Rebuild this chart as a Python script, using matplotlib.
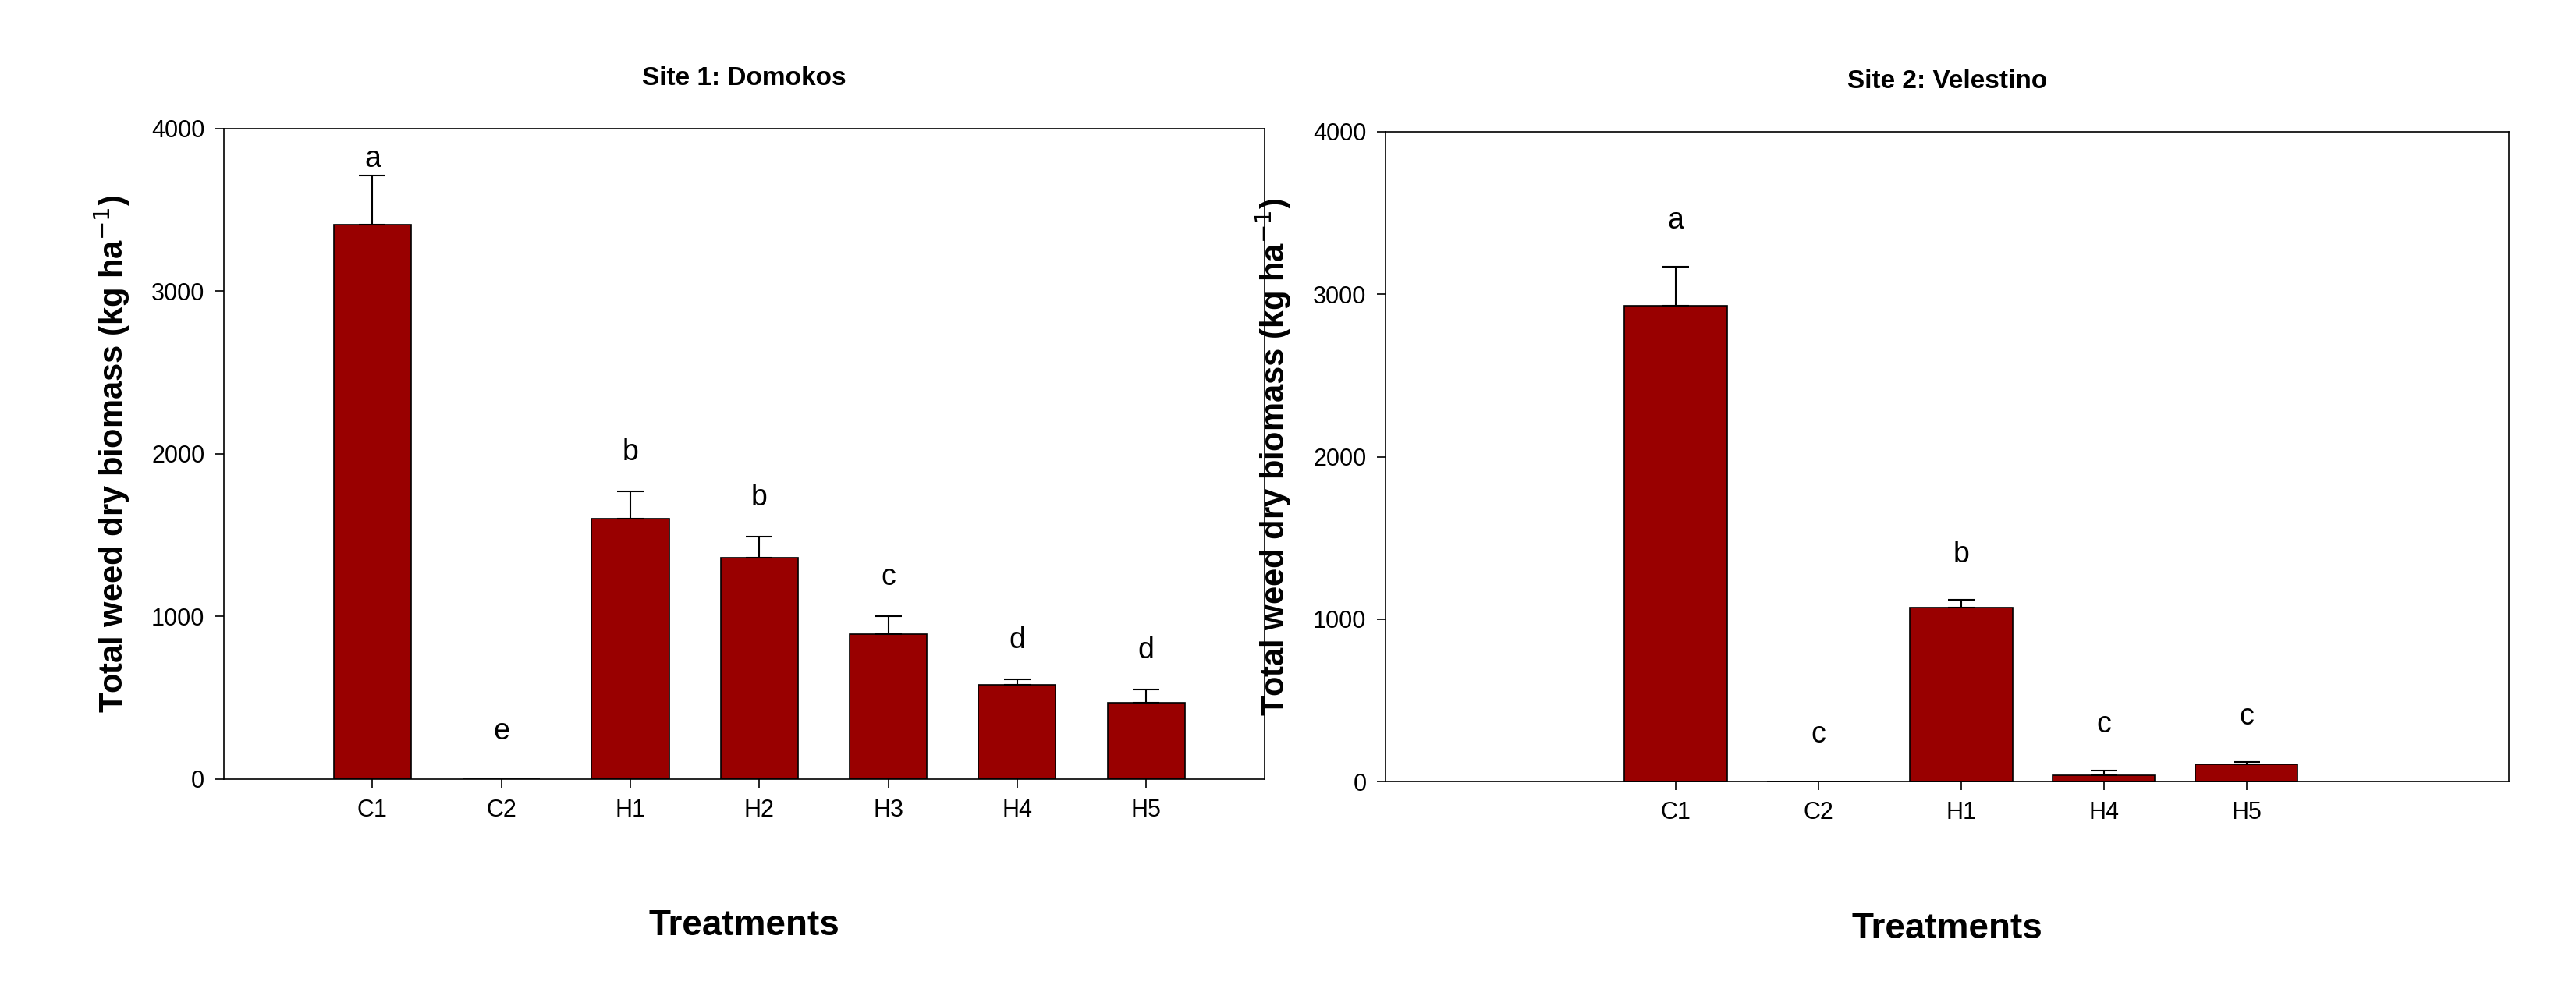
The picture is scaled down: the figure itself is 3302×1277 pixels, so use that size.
import matplotlib.pyplot as plt

plt.rcParams['font.family'] = ['Liberation Sans', 'DejaVu Sans']

# ---------------------------
# DATA
# ---------------------------
site1_labels = ["C1", "C2", "H1", "H2", "H3", "H4", "H5"]
site1_means = [3410, 0, 1600, 1360, 890, 580, 470]
site1_errs = [300, 0, 170, 130, 110, 30, 80]
site1_letters = ["a", "e", "b", "b", "c", "d", "d"]

site2_labels = ["C1", "C2", "H1", "H4", "H5"]
site2_means = [2930, 0, 1070, 40, 110]
site2_errs = [240, 0, 50, 30, 10]
site2_letters = ["a", "c", "b", "c", "c"]

bar_color = "#990000"

fig = plt.figure(figsize=(33.02, 12.77), dpi=100)
ax1 = fig.add_axes([0.087, 0.218, 0.404, 0.653])
ax2 = fig.add_axes([0.538, 0.215, 0.436, 0.653])


def draw_site(ax, labels, means, errs, letters, width, xlim, title, offset):
    x = list(range(len(labels)))
    ax.bar(x, means, width=width, color=bar_color, edgecolor="black", linewidth=1.2)
    for xi, m, e in zip(x, means, errs):
        if e > 0:
            ax.errorbar(xi, m, yerr=[[0], [e]], color="black", capsize=12,
                        elinewidth=1.5, capthick=1.5)
    for xi, m, e, l in zip(x, means, errs, letters):
        y = min(m + e + offset, 3810) if m > 0 else 290
        ax.text(xi, y, l, ha="center", va="center", fontsize=27)
    ax.set_xticks(x)
    ax.set_xticklabels(labels)
    ax.set_xlim(*xlim)
    ax.set_ylim(0, 4000)
    ax.set_yticks([0, 1000, 2000, 3000, 4000])
    ax.tick_params(axis="both", labelsize=22, direction="out", length=8, width=1.2, pad=10)
    ax.tick_params(axis="y", right=False)
    for s in ax.spines.values():
        s.set_linewidth(1.2)
    ax.set_title(title, fontsize=24, fontweight="bold", pad=40)
    ax.set_ylabel("Total weed dry biomass (kg ha$^{-1}$)", fontsize=30, fontweight="bold", labelpad=18)
    ax.set_xlabel("Treatments", fontsize=33, fontweight="bold", labelpad=80)


draw_site(ax1, site1_labels, site1_means, site1_errs, site1_letters,
          0.6, (-1.15, 6.92), "Site 1: Domokos", 240)
draw_site(ax2, site2_labels, site2_means, site2_errs, site2_letters,
          0.72, (-2.03, 5.84), "Site 2: Velestino", 280)

fig.savefig("out.png", dpi=100)
